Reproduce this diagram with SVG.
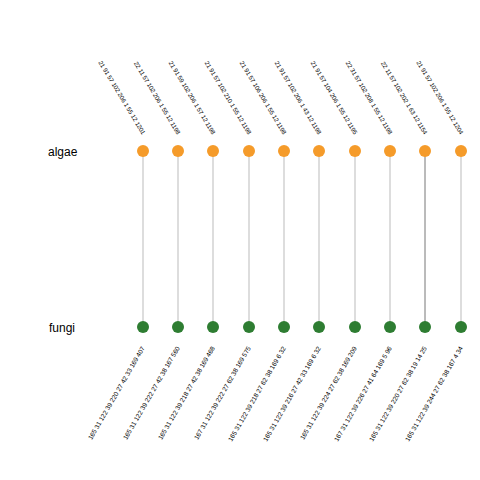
<svg xmlns="http://www.w3.org/2000/svg" width="480" height="480" viewBox="0 0 480 480">
<style>
.lbl{font-family:"Liberation Sans",Arial,sans-serif;font-size:12px;fill:#000}
.t{font-family:"Liberation Sans",Arial,sans-serif;font-size:6.1px;fill:#000;text-anchor:end}
.b{font-size:6.5px}
.a{fill:#F59B2A}
.f{fill:#2E7D32}
.e{stroke:#bbbbbb;stroke-width:1}
</style>
<rect width="480" height="480" fill="#fff"/>
<g id="connectors">
<line class="e" x1="143" y1="151" x2="143" y2="327"/>
<line class="e" x1="178" y1="151" x2="178" y2="327"/>
<line class="e" x1="213" y1="151" x2="213" y2="327"/>
<line class="e" x1="249" y1="151" x2="249" y2="327"/>
<line class="e" x1="284" y1="151" x2="284" y2="327"/>
<line class="e" x1="319" y1="151" x2="319" y2="327"/>
<line class="e" x1="355" y1="151" x2="355" y2="327"/>
<line class="e" x1="390" y1="151" x2="390" y2="327"/>
<line x1="425" y1="151" x2="425" y2="327" stroke="#777" stroke-width="1"/>
<line class="e" x1="461" y1="151" x2="461" y2="327"/>
</g>
<g id="algae"><text class="lbl" x="48" y="156">algae</text></g>
<g id="fungi"><text class="lbl" x="49" y="332">fungi</text></g>
<g id="top-nodes">
<circle class="a" cx="143" cy="151" r="6"/>
<circle class="a" cx="178" cy="151" r="6"/>
<circle class="a" cx="213" cy="151" r="6"/>
<circle class="a" cx="249" cy="151" r="6"/>
<circle class="a" cx="284" cy="151" r="6"/>
<circle class="a" cx="319" cy="151" r="6"/>
<circle class="a" cx="355" cy="151" r="6"/>
<circle class="a" cx="390" cy="151" r="6"/>
<circle class="a" cx="425" cy="151" r="6"/>
<circle class="a" cx="461" cy="151" r="6"/>
</g>
<g id="bottom-nodes">
<circle class="f" cx="143" cy="327" r="6"/>
<circle class="f" cx="178" cy="327" r="6"/>
<circle class="f" cx="213" cy="327" r="6"/>
<circle class="f" cx="249" cy="327" r="6"/>
<circle class="f" cx="284" cy="327" r="6"/>
<circle class="f" cx="319" cy="327" r="6"/>
<circle class="f" cx="355" cy="327" r="6"/>
<circle class="f" cx="390" cy="327" r="6"/>
<circle class="f" cx="425" cy="327" r="6"/>
<circle class="f" cx="461" cy="327" r="6"/>
</g>
<g id="top-labels">
<text class="t" transform="translate(142,135) rotate(59)">21 91 57 102 206 1 55 12 1201</text>
<text class="t" transform="translate(177,135) rotate(59)">22 11 57 102 206 1 55 12 1198</text>
<text class="t" transform="translate(212,135) rotate(59)">21 91 59 102 206 1 57 12 1198</text>
<text class="t" transform="translate(248,135) rotate(59)">21 91 57 102 210 1 55 12 1198</text>
<text class="t" transform="translate(283,135) rotate(59)">21 91 57 106 206 1 55 12 1198</text>
<text class="t" transform="translate(318,135) rotate(59)">21 91 57 102 206 1 43 12 1198</text>
<text class="t" transform="translate(354,135) rotate(59)">21 91 57 104 206 1 55 12 1195</text>
<text class="t" transform="translate(389,135) rotate(59)">22 31 57 102 208 1 55 12 1198</text>
<text class="t" transform="translate(424,135) rotate(59)">22 11 57 102 202 1 63 12 1154</text>
<text class="t" transform="translate(460,135) rotate(59)">21 91 57 102 206 1 55 12 1204</text>
</g>
<g id="bottom-labels">
<text class="t b" transform="translate(145,348) rotate(-60)">165 31 122 39 220 27 42 33 169 407</text>
<text class="t b" transform="translate(180,348) rotate(-60)">165 31 122 39 222 27 42 38 167 560</text>
<text class="t b" transform="translate(215,348) rotate(-60)">165 31 122 39 218 27 42 38 169 468</text>
<text class="t b" transform="translate(251,348) rotate(-60)">167 31 122 39 222 27 62 38 169 575</text>
<text class="t b" transform="translate(286,348) rotate(-60)">165 31 122 39 218 27 62 38 169 6 32</text>
<text class="t b" transform="translate(321,348) rotate(-60)">165 31 122 39 216 27 42 33 169 6 32</text>
<text class="t b" transform="translate(357,348) rotate(-60)">165 31 122 39 224 27 62 38 169 209</text>
<text class="t b" transform="translate(392,348) rotate(-60)">167 31 122 39 226 27 41 64 169 5 96</text>
<text class="t b" transform="translate(427,348) rotate(-60)">165 31 122 39 220 27 62 38 19 14 25</text>
<text class="t b" transform="translate(463,348) rotate(-60)">165 31 122 39 244 27 62 38 167 4 34</text>
</g>
</svg>
